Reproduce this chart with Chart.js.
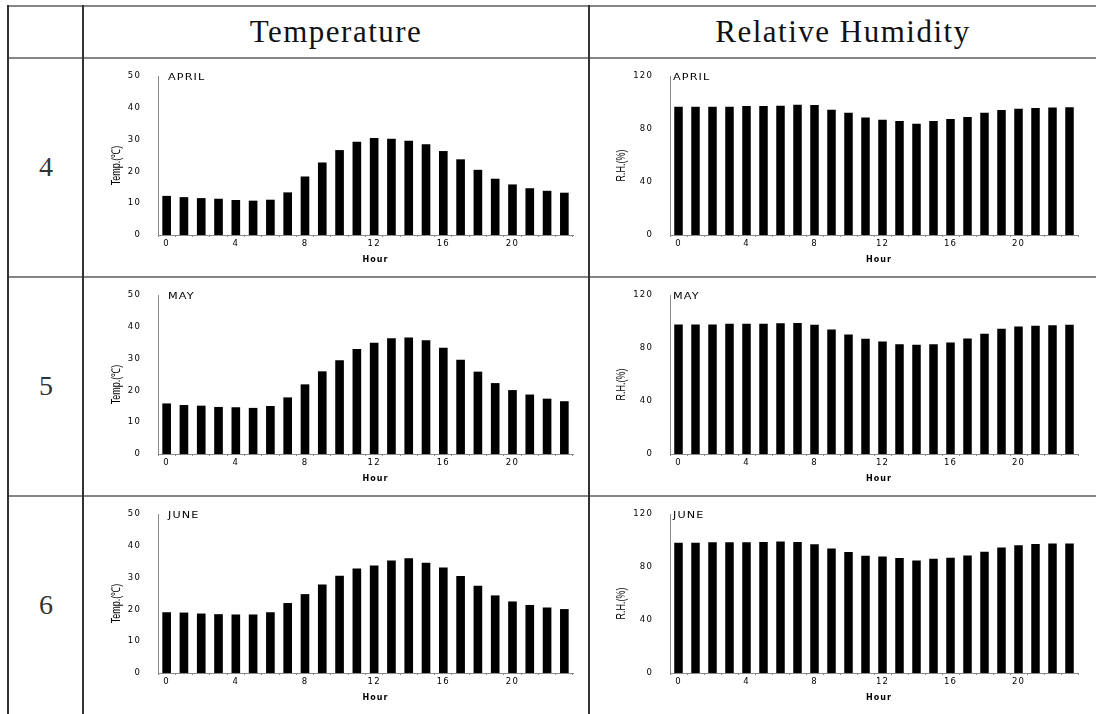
<!DOCTYPE html>
<html>
<head>
<meta charset="utf-8">
<title>Hourly temperature and relative humidity</title>
<script src="https://cdn.jsdelivr.net/npm/chart.js@4.4.1/dist/chart.umd.min.js"></script>
<style>
  body { margin: 0; width: 1096px; height: 714px; overflow: hidden; background: #fff; position: relative;
         font-family: 'Liberation Serif', 'Times New Roman', serif; color: #111; }
  .hl { position: absolute; left: 7px; right: 0; height: 2px; background: #858585; }
  .vl { position: absolute; top: 5px; bottom: 0; width: 2px; background: #333; }
  .hd { position: absolute; top: 7px; height: 50px; line-height: 50px; text-align: center;
        font-size: 31px; letter-spacing: 1.5px; }
  .rl { position: absolute; left: 9px; width: 74px; height: 218px; line-height: 218px;
        text-align: center; font-size: 28px; color: #333; }
  canvas { position: absolute; }
</style>
</head>
<body>

<div class="hl" style="top:5px"></div>
<div class="hl" style="top:57px"></div>
<div class="hl" style="top:276px"></div>
<div class="hl" style="top:495px"></div>
<div class="vl" style="left:7px"></div>
<div class="vl" style="left:82px"></div>
<div class="vl" style="left:588px"></div>

<div class="hd" style="left:84px;width:504px">Temperature</div>
<div class="hd" style="left:590px;width:506px">Relative Humidity</div>

<div id="cells"></div>

<script>
// ─── DATA ──────────────────────────────────────────────────
const hours      = [0,1,2,3,4,5,6,7,8,9,10,11,12,13,14,15,16,17,18,19,20,21,22,23];
const rowLabels  = ['4', '5', '6'];
const months     = ['APRIL', 'MAY', 'JUNE'];
const tempTicks  = [0, 10, 20, 30, 40, 50];
const rhTicks    = [0, 40, 80, 120];

const tempApril = [12.3,11.9,11.6,11.4,11.0,10.8,11.1,13.4,18.4,22.8,26.7,29.3,30.5,30.3,29.6,28.5,26.4,23.8,20.5,17.7,15.9,14.7,13.9,13.3];
const tempMay   = [15.9,15.4,15.2,14.8,14.7,14.5,15.1,17.8,21.9,26.0,29.5,33.0,35.0,36.4,36.6,35.8,33.4,29.6,25.9,22.3,20.1,18.7,17.4,16.6];
const tempJune  = [19.1,19.0,18.7,18.5,18.4,18.4,19.1,22.0,24.8,27.8,30.6,32.9,33.8,35.4,36.1,34.7,33.2,30.5,27.4,24.4,22.5,21.4,20.6,20.1];

const rhApril = [96.8,96.8,96.8,96.8,97.3,97.3,97.6,98.3,98.1,94.5,92.3,88.7,87.0,86.0,83.9,86.0,87.5,89.0,92.3,94.3,95.3,95.8,96.3,96.5];
const rhMay   = [97.8,97.8,97.8,98.3,98.3,98.3,98.6,98.8,97.6,94.0,90.2,87.0,85.0,82.9,82.4,82.9,84.2,87.2,90.8,94.5,96.3,96.8,97.1,97.6];
const rhJune  = [98.3,98.3,98.6,98.6,98.6,98.8,99.3,98.8,97.1,94.0,91.3,88.5,88.0,86.7,85.0,86.2,87.0,88.7,91.5,94.8,96.5,97.3,97.8,97.8];

const tempRows = [tempApril, tempMay, tempJune];
const rhRows   = [rhApril, rhMay, rhJune];

// ─── LAYOUT ────────────────────────────────────────────────
const ROW_TOPS = [58, 277, 496];
const CELL_W = 504, CELL_H = 218;
const TICK_FONT = { family: 'DejaVu Sans', size: 8.5 };

// month name, "Hour" and the rotated y title, placed from the chart area
const cellLabels = {
  id: 'cellLabels',
  beforeDraw(chart) { chart.ctx.letterSpacing = '1.2px'; },
  afterDraw(chart, args, o) {
    const { ctx, chartArea: a } = chart;
    ctx.save();
    ctx.fillStyle = '#000';

    // month: wide, slightly heavy lettering
    ctx.save();
    ctx.translate(a.left + o.monthDx, a.top - 2);
    ctx.scale(1.4, 1);
    ctx.font = '8px "DejaVu Sans"';
    ctx.letterSpacing = '0.8px';
    ctx.textAlign = 'left';
    ctx.textBaseline = 'top';
    ctx.fillText(o.month, 0, 0);
    ctx.restore();

    ctx.font = 'bold 8px "DejaVu Sans"';
    ctx.letterSpacing = '1px';
    ctx.textAlign = 'center';
    ctx.textBaseline = 'middle';
    ctx.fillText('Hour', (a.left + a.right) / 2 + o.hourDx, a.bottom + 25);

    ctx.translate(a.left - o.titleDx, (a.top + a.bottom) / 2 + 10);
    ctx.rotate(-Math.PI / 2);
    ctx.scale(0.75, 1);
    ctx.font = '12px "Liberation Sans"';
    ctx.letterSpacing = '0px';
    ctx.fillText(o.title, 0, 0);
    ctx.restore();
  }
};

function makeChart(left, top, values, ticks, label) {
  const canvas = document.createElement('canvas');
  canvas.width = CELL_W;
  canvas.height = CELL_H;
  canvas.style.left = left + 'px';
  canvas.style.top = top + 'px';
  document.getElementById('cells').appendChild(canvas);

  return new Chart(canvas, {
    type: 'bar',
    data: {
      labels: hours,
      datasets: [{ data: values, backgroundColor: '#000', borderWidth: 0,
                   barPercentage: 0.5, categoryPercentage: 1 }],
    },
    options: {
      responsive: false,
      animation: false,
      events: [],
      layout: { padding: { top: 18, right: label.padRight, left: 0, bottom: 0 } },
      plugins: { legend: { display: false }, tooltip: { enabled: false }, cellLabels: label },
      scales: {
        x: {
          grid: { display: true, drawOnChartArea: false, tickLength: 2, color: '#8a8a8a' },
          border: { color: '#8a8a8a', width: 1 },
          ticks: {
            autoSkip: false, maxRotation: 0, minRotation: 0, padding: 2,
            color: '#000', font: TICK_FONT,
            callback: (v, i) => (i % 4 === 0 ? String(hours[i]) : ''),
          },
          afterFit: s => { s.height = 41; },
        },
        y: {
          min: ticks[0],
          max: ticks[ticks.length - 1],
          grid: { display: false },
          border: { color: '#8a8a8a', width: 1 },
          ticks: { stepSize: ticks[1] - ticks[0], padding: 9, color: '#000', font: TICK_FONT },
          afterBuildTicks: s => { s.ticks = ticks.map(v => ({ value: v })); },
          afterFit: s => { s.width = label.axisW; },
        },
      },
    },
    plugins: [cellLabels],
  });
}

ROW_TOPS.forEach((top, i) => {
  const rl = document.createElement('div');
  rl.className = 'rl';
  rl.style.top = top + 'px';
  rl.textContent = rowLabels[i];
  document.getElementById('cells').appendChild(rl);

  makeChart(84, top, tempRows[i], tempTicks,
    { month: months[i], title: 'Temp.(℃)', monthDx: 10, hourDx: 10, titleDx: 41, axisW: 74, padRight: 15 });
  makeChart(590, top, rhRows[i], rhTicks,
    { month: months[i], title: 'R.H.(%)', monthDx: 3, hourDx: 5, titleDx: 48, axisW: 80, padRight: 16 });
});
</script>
</body>
</html>
